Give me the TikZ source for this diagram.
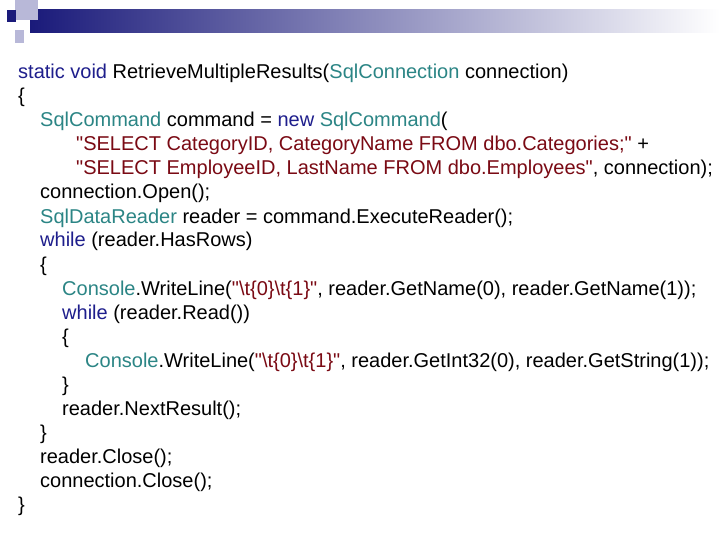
\documentclass[tikz,border=0pt]{standalone}
\usepackage{fontspec}
\setmainfont{Liberation Sans}[Ligatures=TeXOff]
\definecolor{kw}{HTML}{1E1E8C}
\definecolor{ty}{HTML}{2B8585}
\definecolor{st}{HTML}{7A0A14}
\definecolor{navy}{HTML}{1A1A7A}
\definecolor{lav}{HTML}{B8B8D8}
\newcommand{\K}[1]{\textcolor{kw}{#1}}
\newcommand{\T}[1]{\textcolor{ty}{#1}}
\newcommand{\Sg}[1]{\textcolor{st}{#1}}
\newcommand{\bs}{\textbackslash}
\newcommand{\q}{\char34\relax}
\begin{document}
\begin{tikzpicture}[x=1pt,y=-1pt,
  code/.style={anchor=base west,inner sep=0pt,font=\fontsize{20}{24}\selectfont}]
\useasboundingbox (0,0) rectangle (720,540);
\fill[white] (0,0) rectangle (720,540);
% header
\shade[left color=navy,right color=white] (30,10) rectangle (720,33);
\fill[lav] (15,0) rectangle (38,20);
\fill[lav] (15,30) rectangle (24,43);
\fill[navy] (7,10) rectangle (16,22);
% code
\node[code] (l1) at (18,79) {\K{static void} RetrieveMultipleResults(\T{SqlConnection} connection)};
\node[code] (l2) at (18,103) {\{};
\node[code] (l3) at (40,127) {\T{SqlCommand} command = \K{new} \T{SqlCommand}(};
\node[code] (l4) at (76,151) {\Sg{\q SELECT CategoryID, CategoryName FROM dbo.Categories;\q} +};
\node[code] (l5) at (76,175) {\Sg{\q SELECT EmployeeID, LastName FROM dbo.Employees\q}, connection);};
\node[code] (l6) at (40,199) {connection.Open();};
\node[code] (l7) at (40,223) {\T{SqlDataReader} reader = command.ExecuteReader();};
\node[code] (l8) at (40,247) {\K{while} (reader.HasRows)};
\node[code] (l9) at (40,271) {\{};
\node[code] (l10) at (62,295) {\T{Console}.WriteLine(\Sg{\q\bs t\{0\}\bs t\{1\}\q}, reader.GetName(0), reader.GetName(1));};
\node[code] (l11) at (62,319) {\K{while} (reader.Read())};
\node[code] (l12) at (62,343) {\{};
\node[code] (l13) at (85,367) {\T{Console}.WriteLine(\Sg{\q\bs t\{0\}\bs t\{1\}\q}, reader.GetInt32(0), reader.GetString(1));};
\node[code] (l14) at (62,391) {\}};
\node[code] (l15) at (62,415) {reader.NextResult();};
\node[code] (l16) at (40,439) {\}};
\node[code] (l17) at (40,463) {reader.Close();};
\node[code] (l18) at (40,487) {connection.Close();};
\node[code] (l19) at (18,511) {\}};
\end{tikzpicture}
\end{document}
